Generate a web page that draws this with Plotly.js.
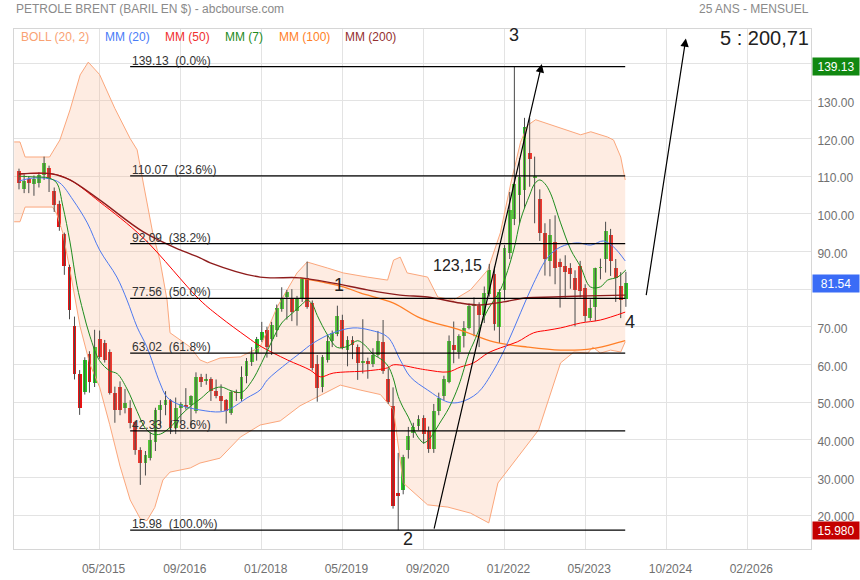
<!DOCTYPE html>
<html><head><meta charset="utf-8">
<script src="https://cdn.plot.ly/plotly-3.0.1.min.js"></script>
<style>html,body{margin:0;padding:0;background:#fff}#c{width:860px;height:580px}</style>
</head><body><div id="c"></div>
<script>
// ---- monthly candles (01/2014 .. 01/2024)
const months = [
'2014-01','2014-02','2014-03','2014-04','2014-05','2014-06','2014-07','2014-08','2014-09','2014-10','2014-11','2014-12',
'2015-01','2015-02','2015-03','2015-04','2015-05','2015-06','2015-07','2015-08','2015-09','2015-10','2015-11','2015-12',
'2016-01','2016-02','2016-03','2016-04','2016-05','2016-06','2016-07','2016-08','2016-09','2016-10','2016-11','2016-12',
'2017-01','2017-02','2017-03','2017-04','2017-05','2017-06','2017-07','2017-08','2017-09','2017-10','2017-11','2017-12',
'2018-01','2018-02','2018-03','2018-04','2018-05','2018-06','2018-07','2018-08','2018-09','2018-10','2018-11','2018-12',
'2019-01','2019-02','2019-03','2019-04','2019-05','2019-06','2019-07','2019-08','2019-09','2019-10','2019-11','2019-12',
'2020-01','2020-02','2020-03','2020-04','2020-05','2020-06','2020-07','2020-08','2020-09','2020-10','2020-11','2020-12',
'2021-01','2021-02','2021-03','2021-04','2021-05','2021-06','2021-07','2021-08','2021-09','2021-10','2021-11','2021-12',
'2022-01','2022-02','2022-03','2022-04','2022-05','2022-06','2022-07','2022-08','2022-09','2022-10','2022-11','2022-12',
'2023-01','2023-02','2023-03','2023-04','2023-05','2023-06','2023-07','2023-08','2023-09','2023-10','2023-11','2023-12',
'2024-01'];
const openP = [111.5,106.5,109.3,108.0,108.1,110.3,112.3,106.2,102.5,94.6,86.0,70.2,
57.5,52.8,62.8,55.1,66.7,65.7,63.4,52.4,54.1,48.4,48.4,44.7,
37.3,33.8,35.1,39.5,47.9,49.2,50.5,43.1,48.4,49.2,49.2,47.5,
56.6,55.6,56.1,52.9,51.6,50.5,47.2,52.7,50.8,57.0,60.7,63.1,
66.5,69.1,66.8,69.1,74.7,78.0,77.7,74.3,77.4,83.0,76.3,60.1,
54.1,61.2,66.1,68.0,71.8,63.8,66.5,64.7,60.3,60.8,60.2,62.5,
66.0,56.1,49.0,25.9,26.6,37.2,41.9,43.7,45.9,42.4,37.5,47.7,
51.7,55.2,65.2,63.2,67.5,69.6,75.4,75.6,73.1,78.8,84.1,70.0,
79.8,89.7,98.6,105.0,106.3,116.2,109.6,104.0,95.0,87.5,92.6,87.2,
86.2,85.5,83.0,86.2,80.3,72.3,75.3,85.7,88.0,94.4,85.6,80.8,
77.3];
const highP = [112.0,110.5,110.0,110.2,111.0,115.2,112.8,107.0,103.5,95.0,86.5,72.7,
58.5,61.9,63.5,69.2,69.0,66.5,64.0,54.1,55.5,53.5,50.5,45.0,
38.0,37.0,42.0,48.5,50.5,52.9,50.8,51.2,50.0,53.7,51.8,57.9,
57.5,57.5,56.6,56.0,54.7,50.8,53.0,53.3,59.5,61.7,64.6,67.3,
71.3,70.0,71.3,75.9,80.5,79.8,80.0,78.2,82.9,87.3,77.0,62.5,
62.5,67.7,69.0,75.6,73.2,67.5,67.5,65.3,72.0,61.8,64.3,68.9,
71.8,59.0,53.9,36.5,36.0,43.4,44.5,46.5,46.5,43.5,49.5,52.5,
57.0,67.7,71.4,68.0,71.5,76.2,77.8,76.5,80.7,86.7,86.0,80.0,
91.7,105.8,139.13,114.8,125.5,125.5,115.2,106.5,97.5,98.6,99.6,88.1,
89.0,86.9,85.0,87.5,81.3,77.3,85.7,88.1,97.9,96.0,88.0,84.5,
84.6];
const lowP = [106.5,105.5,105.5,104.8,107.0,109.0,105.8,100.5,95.5,83.8,72.0,56.0,
46.6,52.0,52.5,54.0,61.5,60.5,52.0,44.5,46.5,47.0,43.0,36.0,
28.0,30.5,34.5,37.0,43.5,46.5,41.5,41.5,44.5,48.0,43.1,47.0,
54.0,54.6,50.3,51.0,47.6,44.3,46.6,50.3,50.3,55.0,59.6,61.0,
66.0,61.8,62.5,67.3,74.0,71.9,71.5,70.3,76.6,74.8,58.4,50.1,
52.6,60.5,64.6,67.5,64.0,59.5,61.4,55.9,57.6,56.2,59.3,62.0,
57.5,49.5,21.7,15.98,25.5,35.0,40.5,42.5,38.9,36.5,36.5,46.5,
50.5,55.0,60.3,61.5,64.5,69.3,67.5,64.6,71.0,78.0,69.0,65.7,
77.0,88.0,97.0,97.5,101.5,107.2,97.5,92.8,83.6,83.4,81.3,75.1,
77.7,80.1,70.1,77.8,71.3,71.6,71.5,82.6,84.4,83.5,76.6,72.3,
75.3];
const closeP = [108.1,108.8,108.2,109.3,110.3,113.4,109.5,102.4,96.4,86.2,74.5,57.5,
48.4,61.2,55.4,64.6,62.0,61.2,52.5,47.9,47.9,49.7,44.5,37.3,
33.8,35.9,39.9,47.9,49.2,50.5,43.1,48.4,49.6,48.6,51.7,56.7,
55.4,56.2,53.0,51.5,50.3,47.5,52.6,52.3,56.7,60.8,62.7,66.8,
68.7,64.7,70.5,75.0,77.7,79.3,74.0,77.4,82.7,75.3,59.0,53.7,
62.1,66.1,68.3,72.9,64.3,66.5,65.2,60.3,60.8,60.2,62.4,66.1,
58.2,50.0,22.4,25.1,35.4,41.0,43.5,45.5,41.5,37.5,47.7,51.0,
56.1,66.3,63.9,67.5,69.6,75.4,76.1,73.1,78.9,85.0,70.8,79.3,
91.0,101.0,107.9,109.7,123.2,114.6,110.0,94.9,87.9,94.5,85.5,85.9,
84.6,84.0,79.8,79.4,72.9,75.0,85.6,86.0,95.5,87.5,83.0,77.1,
81.54];

// ---- indicators
const bollUpDates = ['2013-12-03','2014-01-07','2014-02-07','2014-07-04','2014-09-04','2014-11-04','2015-01-04','2015-02-22','2015-05-01','2015-08-01','2015-11-01','2015-12-13','2016-01-19','2016-03-16','2016-04-28','2016-06-10','2016-06-28','2016-08-28','2016-10-28','2016-12-25','2017-02-07','2017-04-25','2017-08-25','2017-12-22','2018-04-04','2018-08-01','2018-10-01','2019-02-01','2019-05-07','2019-09-28','2020-01-28','2020-03-04','2020-04-13','2020-05-25','2020-09-25','2020-11-25','2021-02-28','2021-06-10','2021-09-22','2021-12-07','2022-02-07','2022-04-07','2022-05-19','2022-07-07','2022-11-16','2023-04-04','2023-06-04','2023-09-13','2023-10-19','2023-12-01','2023-12-28'];
const bollUpVals = [119.1,119.1,115.1,115.1,119.6,127.6,136.9,140.3,137.0,128.0,120.0,117.0,108.2,94.9,87.7,77.1,68.4,66.5,64.6,61.2,60.4,61.7,62.0,64.6,75.3,84.3,87.2,85.6,84.3,83.2,82.4,87.7,88.5,84.3,83.2,77.9,77.1,79.8,85.1,95.0,108.0,119.0,123.5,125.0,123.1,121.0,121.8,120.4,119.6,115.1,109.0];
const bollLoDates = ['2013-12-03','2014-01-07','2014-02-07','2014-07-22','2014-08-16','2014-09-22','2014-11-04','2015-01-04','2015-03-04','2015-05-01','2015-07-01','2015-09-01','2015-11-01','2016-01-01','2016-02-10','2016-03-28','2016-05-16','2016-06-28','2016-10-28','2016-12-25','2017-04-25','2017-08-25','2017-12-22','2018-04-22','2018-08-19','2019-04-19','2019-08-16','2019-12-16','2020-03-04','2020-05-01','2020-09-25','2021-01-25','2021-06-10','2021-09-28','2021-11-22','2022-07-25','2022-12-04','2023-02-22','2023-05-16','2023-06-16','2023-08-01','2023-10-01','2023-12-01','2023-12-28'];
const bollLoVals = [97.9,97.9,101.8,101.8,100.0,94.9,85.0,70.0,60.0,54.0,44.0,33.0,24.0,19.0,18.5,22.0,29.3,31.4,32.5,33.8,35.1,40.7,43.9,45.0,49.0,54.5,53.2,52.0,47.9,28.5,22.7,22.1,20.5,17.9,28.5,42.6,60.4,63.3,63.0,64.6,63.0,63.8,63.3,66.0];

const mm7Dates = ['2014-01-01','2014-04-01','2014-07-01','2014-08-16','2014-09-22','2014-11-04','2014-12-16','2015-01-22','2015-03-04','2015-05-01','2015-07-01','2015-08-16','2015-10-13','2015-12-13','2016-02-01','2016-03-16','2016-05-01','2016-07-01','2016-09-01','2016-11-01','2017-01-01','2017-03-01','2017-05-01','2017-07-01','2017-09-01','2017-11-01','2018-01-01','2018-03-01','2018-05-01','2018-07-01','2018-09-01','2018-10-01','2018-11-01','2018-12-01','2019-02-01','2019-04-01','2019-06-01','2019-08-01','2019-09-16','2019-11-01','2020-01-01','2020-02-01','2020-03-01','2020-04-01','2020-05-01','2020-06-01','2020-07-01','2020-08-01','2020-09-01','2020-10-01','2020-11-01','2020-12-01','2021-02-01','2021-04-01','2021-06-01','2021-07-01','2021-09-22','2021-12-07','2022-02-25','2022-04-07','2022-06-01','2022-07-01','2022-08-01','2022-09-01','2022-10-04','2022-12-04','2023-02-04','2023-04-04','2023-06-01','2023-08-01','2023-09-13','2023-11-13','2024-01-01'];
const mm7Vals = [110,109.8,109.5,108.2,102,92.5,81,74,67.5,61,58.3,57.5,53.5,47.5,43,41.5,41.5,43.4,46.5,49,51,53.2,54,53,52.6,55.5,60.5,66,71,73.5,76,77.1,76,73,67.8,64.5,64.8,66.3,65,62.8,61,59.5,56.5,51.5,48.5,46,43,40.5,39.2,40,41.8,44,48.5,54.5,63,66,74.5,79.8,90.4,98.4,105,108,109,108,105.5,97.6,90.4,85.9,80.6,80.6,82.4,83.2,85.1];

const mm20Dates = ['2014-01-01','2014-03-25','2014-07-04','2014-09-04','2014-11-22','2015-02-16','2015-05-01','2015-08-13','2015-10-13','2015-12-13','2016-02-10','2016-04-28','2016-06-10','2016-08-28','2016-12-25','2017-04-25','2017-06-25','2017-10-04','2017-12-22','2018-02-04','2018-06-04','2018-08-19','2018-11-07','2019-03-07','2019-07-04','2019-10-16','2020-01-28','2020-04-13','2020-06-13','2020-09-25','2021-01-25','2021-04-10','2021-07-22','2021-10-28','2022-01-19','2022-04-07','2022-06-25','2022-09-19','2022-12-04','2023-03-16','2023-06-04','2023-08-19','2023-10-19','2023-12-28'];
const mm20Vals = [108.7,109.5,109.3,108.2,103.7,97.6,90.4,83.2,77.1,69.9,64.6,55.1,51.3,49.2,47.9,47.4,48.2,51.1,53.2,55.9,60.4,63.0,65.7,68.4,69.7,69.1,67.3,61.2,56.7,53.2,50.0,50.0,52.4,58.5,65.7,73.7,81.6,88.5,91.2,92.3,91.7,92.8,91.2,87.5];

const mm50Dates = ['2014-01-01','2014-07-22','2014-11-04','2015-05-01','2016-01-19','2016-12-25','2017-04-25','2017-10-04','2017-12-22','2018-06-04','2018-10-19','2018-12-19','2019-03-07','2019-09-28','2020-01-28','2020-03-04','2020-08-13','2020-09-25','2021-01-25','2021-04-10','2021-06-28','2021-09-22','2021-12-07','2022-03-19','2022-06-25','2022-09-19','2022-12-04','2023-04-04','2023-08-01','2023-12-28'];
const mm50Vals = [110.6,110.6,109.0,103.2,93.6,77.1,72.6,67.3,64.9,61.2,58.5,56.7,57.7,58.3,59.1,59.9,58.8,58.5,58.0,59.3,60.4,63.0,64.4,66.0,68.4,69.1,69.7,71.0,71.8,73.9];

const mm100Dates = ['2018-08-19','2019-05-07','2019-08-16','2020-03-04','2020-08-13','2021-04-10','2021-10-28','2022-05-19','2022-12-04','2023-06-16','2023-12-01','2023-12-28'];
const mm100Vals = [83.0,80.6,79.0,76.3,72.3,69.1,66.0,64.6,63.8,64.2,66.0,66.3];

const mm200Dates = ['2014-01-01','2014-07-22','2014-11-04','2015-05-01','2016-01-19','2016-08-28','2016-12-25','2017-02-25','2017-12-22','2018-08-19','2019-03-07','2019-09-28','2020-04-13','2020-09-25','2021-04-10','2021-08-10','2021-12-25','2022-05-19','2022-10-22','2023-05-16','2023-12-28'];
const mm200Vals = [110.6,110.6,109.0,103.7,95.2,90.4,88.3,87.0,83.2,83.0,81.6,79.8,78.4,77.9,76.3,75.8,76.6,77.7,77.9,78.2,78.4];

// ---- Fibonacci retracement levels
const fibLevels = [139.13,110.07,92.09,77.56,63.02,42.33,15.98];
const fibPct = ['0.0%','23.6%','38.2%','50.0%','61.8%','78.6%','100.0%'];
const fibStart = '2015-11-01', fibEnd = '2023-12-28';

// ---- wave annotations
const waveText  = ['1','2','3','4','123,15','5 : 200,71'];
const waveDates = ['2019-04-10','2020-05-28','2022-02-25','2024-01-25','2021-03-25','2026-04-13'];
const waveVals  = [80.97,13.6,147.4,71.4,86.3,146.8];
const waveSize  = [18,18,18,18,16,20];
const arrowTailDates = ['2020-11-01','2024-05-01'];
const arrowTailVals  = [16.0,78.0];
const arrowHeadDates = ['2022-08-13','2024-12-27'];
const arrowHeadVals  = [139.8,146.6];

// ---- axes
const xTickVals = ['2015-05-01','2016-09-01','2018-01-01','2019-05-01','2020-09-01','2022-01-01','2023-05-01','2024-09-01','2026-01-01'];
const xTickText = ['05/2015','09/2016','01/2018','05/2019','09/2020','01/2022','05/2023','10/2024','02/2026'];
const yTickVals = [20,30,40,50,60,70,80,90,100,110,120,130,140];
const yTickText = ['20.000','30.000','40.000','50.000','60.00','70.00','','90.00','100.00','110.00','120.00','130.00','140.00'];

const lastPrice = 81.54, topPrice = 139.13, bottomPrice = 15.98;

const FONT = 'Liberation Sans, Arial, sans-serif';

// wick segments
const wx = [], wy = [];
months.forEach((m,i)=>{ wx.push(m,m,null); wy.push(lowP[i],highP[i],null); });

const traces = [
  {x:bollLoDates,y:bollLoVals,type:'scatter',mode:'lines',line:{color:'#fba77c',width:1},hoverinfo:'skip'},
  {x:bollUpDates,y:bollUpVals,type:'scatter',mode:'lines',line:{color:'#fba77c',width:1},fill:'tonexty',fillcolor:'rgba(250,180,140,0.25)',hoverinfo:'skip'},
  {x:wx,y:wy,type:'scatter',mode:'lines',line:{color:'#4a4a4a',width:1},hoverinfo:'skip',connectgaps:false},
  {x:months,base:openP,y:closeP.map((c,i)=>c-openP[i]),type:'bar',width:2.0e9,
   marker:{color:closeP.map((c,i)=>c>=openP[i]?'#22d022':'#ee1111'),line:{width:0}},hoverinfo:'skip'},
  {x:mm100Dates,y:mm100Vals,type:'scatter',mode:'lines',line:{color:'#ff7f27',width:1.3,shape:'spline'},hoverinfo:'skip'},
  {x:mm50Dates,y:mm50Vals,type:'scatter',mode:'lines',line:{color:'#ff0000',width:1,shape:'spline'},hoverinfo:'skip'},
  {x:mm20Dates,y:mm20Vals,type:'scatter',mode:'lines',line:{color:'#4d79f0',width:1,shape:'spline'},hoverinfo:'skip'},
  {x:mm7Dates,y:mm7Vals,type:'scatter',mode:'lines',line:{color:'#1e8c1e',width:1,shape:'spline'},hoverinfo:'skip'},
  {x:mm200Dates,y:mm200Vals,type:'scatter',mode:'lines',line:{color:'#8e1c1c',width:1.4,shape:'spline'},hoverinfo:'skip'}
];
fibLevels.forEach(l=>traces.push({x:[fibStart,fibEnd],y:[l,l],type:'scatter',mode:'lines',line:{color:'#000',width:1.2},hoverinfo:'skip'}));

const ann = [];
// titles
ann.push({xref:'paper',yref:'paper',x:0,y:1,yshift:20,xanchor:'left',yanchor:'middle',showarrow:false,
  text:'PETROLE BRENT (BARIL EN $) - abcbourse.com',font:{family:FONT,size:12,color:'#8a8a8a'}});
ann.push({xref:'paper',yref:'paper',x:1,y:1,yshift:20,xanchor:'right',yanchor:'middle',showarrow:false,
  text:'25 ANS - MENSUEL',font:{family:FONT,size:12,color:'#8a8a8a'}});
// indicator legend
const legItems = [['BOLL (20, 2)','#f9a273',0.0063],['MM (20)','#4a7cf7',0.1117],['MM (50)','#f03030',0.187],['MM (7)','#1e8c1e',0.2622],['MM (100)','#ff7f27',0.33],['MM (200)','#943030',0.4128]];
legItems.forEach(([t,c,x])=>ann.push({xref:'paper',yref:'paper',x:x,y:1,yshift:-8,xanchor:'left',yanchor:'middle',showarrow:false,text:t,font:{family:FONT,size:12,color:c}}));
// fib labels
fibLevels.forEach((l,i)=>ann.push({xref:'x',yref:'y',x:fibStart,y:l,xanchor:'left',yanchor:'bottom',yshift:-3,showarrow:false,
  text:l.toFixed(2)+'\u00a0\u00a0('+fibPct[i]+')',font:{family:FONT,size:12,color:'#333'}}));
// wave labels
waveText.forEach((t,i)=>ann.push({xref:'x',yref:'y',x:waveDates[i],y:waveVals[i],xanchor:'center',yanchor:'middle',showarrow:false,
  text:t,font:{family:FONT,size:waveSize[i],color:'#222'}}));
// arrows
arrowHeadDates.forEach((d,i)=>ann.push({xref:'x',yref:'y',x:d,y:arrowHeadVals[i],axref:'x',ayref:'y',ax:arrowTailDates[i],ay:arrowTailVals[i],
  text:'',showarrow:true,arrowhead:2,arrowsize:1.4,arrowwidth:1.2,arrowcolor:'#000',standoff:0,startstandoff:0}));
// price tags
[[topPrice,'139.13','#118811'],[lastPrice,'81.54','#3a6cf6'],[bottomPrice,'15.980','#c40000']].forEach(([v,t,c])=>ann.push({
  xref:'paper',yref:'y',x:1,y:v,xanchor:'left',yanchor:'middle',xshift:1,showarrow:false,text:t,
  bgcolor:c,width:44,height:15,borderpad:1,font:{family:FONT,size:12,color:'#fff'}}));

const layout = {
  width:860,height:580,margin:{l:14,r:49,t:29,b:31},
  paper_bgcolor:'#fff',plot_bgcolor:'#fff',showlegend:false,bargap:0,
  xaxis:{type:'date',range:['2013-12-02','2027-01-19'],tickvals:xTickVals,ticktext:xTickText,
    showgrid:true,gridcolor:'#e3e3e3',gridwidth:1,showline:true,linecolor:'#d6d6d6',mirror:true,zeroline:false,
    ticks:'',tickfont:{family:FONT,size:12,color:'#707070'},ticklabelstandoff:9,ticklabelshift:4,fixedrange:true},
  yaxis:{side:'right',range:[10.97,149.1],tickvals:yTickVals,ticktext:yTickText,
    showgrid:true,gridcolor:'#e3e3e3',gridwidth:1,showline:true,linecolor:'#d6d6d6',mirror:true,zeroline:false,
    ticks:'',tickfont:{family:FONT,size:12,color:'#707070'},ticklabelstandoff:3,ticklabelshift:2,fixedrange:true},
  annotations:ann,
  font:{family:FONT}
};
Plotly.newPlot('c',traces,layout,{displayModeBar:false,staticPlot:true});
</script></body></html>
